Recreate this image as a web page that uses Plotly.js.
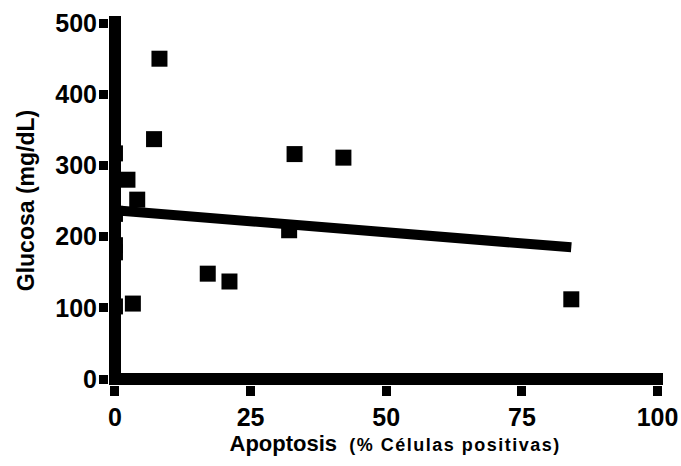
<!DOCTYPE html>
<html>
<head>
<meta charset="utf-8">
<script src="https://cdn.plot.ly/plotly-3.0.1.min.js"></script>
<style>
  html, body { margin: 0; padding: 0; background: #fff; }
  #chart { width: 681px; height: 466px; }
</style>
</head>
<body>
<div id="chart"></div>
<script>
// Data
const apoptosis = [8.2, 7.2, 0, 2.3, 4.1, 0, 0, 0, 3.3, 0, 17.1, 21.1, 32.1, 33.1, 42.1, 84.1];
const glucosa   = [450, 337, 317, 280, 252, 232, 188, 178, 106, 102, 148, 137, 209, 316, 311, 112];
// Fitted regression line endpoints (as drawn)
const fitX = [0, 84.1];
const fitY = [237, 185];
// Ticks
const xTicks = [0, 25, 50, 75, 100];
const yTicks = [0, 100, 200, 300, 400, 500];

const font = {family: 'Liberation Sans, Arial, sans-serif', color: '#000', weight: 'bold'};
const tickFont = {family: 'Liberation Sans, Arial, sans-serif', color: '#000', weight: 'bold', size: 25};

const traces = [
  {
    x: apoptosis, y: glucosa, type: 'scatter', mode: 'markers',
    marker: {symbol: 'square', size: 16, color: '#000'},
    showlegend: false, hoverinfo: 'skip'
  },
  {
    x: fitX, y: fitY, type: 'scatter', mode: 'lines',
    line: {color: '#000', width: 10},
    showlegend: false, hoverinfo: 'skip'
  }
];

const layout = {
  width: 681, height: 466,
  paper_bgcolor: '#fff', plot_bgcolor: '#fff',
  margin: {l: 109, r: 18, t: 16, b: 81, pad: 0},
  showlegend: false,
  xaxis: {
    range: [-1.1, 101],
    tickvals: xTicks, ticktext: xTicks.map(String),
    showgrid: false, showline: false,
    zeroline: true, zerolinecolor: '#000', zerolinewidth: 12,
    ticks: 'outside', ticklen: 10, tickwidth: 9, tickcolor: '#000',
    tickfont: tickFont,
    automargin: false,
    title: {
      text: '&nbsp;&nbsp;&nbsp;Apoptosis&nbsp; <span style="font-size:18px;letter-spacing:1.5px">(% Células positivas)</span>',
      font: Object.assign({size: 22}, font),
      standoff: 0
    }
  },
  yaxis: {
    range: [-8.4, 510],
    tickvals: yTicks, ticktext: yTicks.map(String),
    showgrid: false, showline: false,
    zeroline: true, zerolinecolor: '#000', zerolinewidth: 12,
    ticks: 'outside', ticklen: 9, tickwidth: 9, tickcolor: '#000',
    tickfont: tickFont,
    ticklabelstandoff: -3,
    automargin: false,
    title: {
      text: 'Glucosa (mg/dL)',
      font: Object.assign({size: 23}, font),
      standoff: 14
    }
  }
};

Plotly.newPlot('chart', traces, layout, {staticPlot: true, displayModeBar: false});
</script>
</body>
</html>
